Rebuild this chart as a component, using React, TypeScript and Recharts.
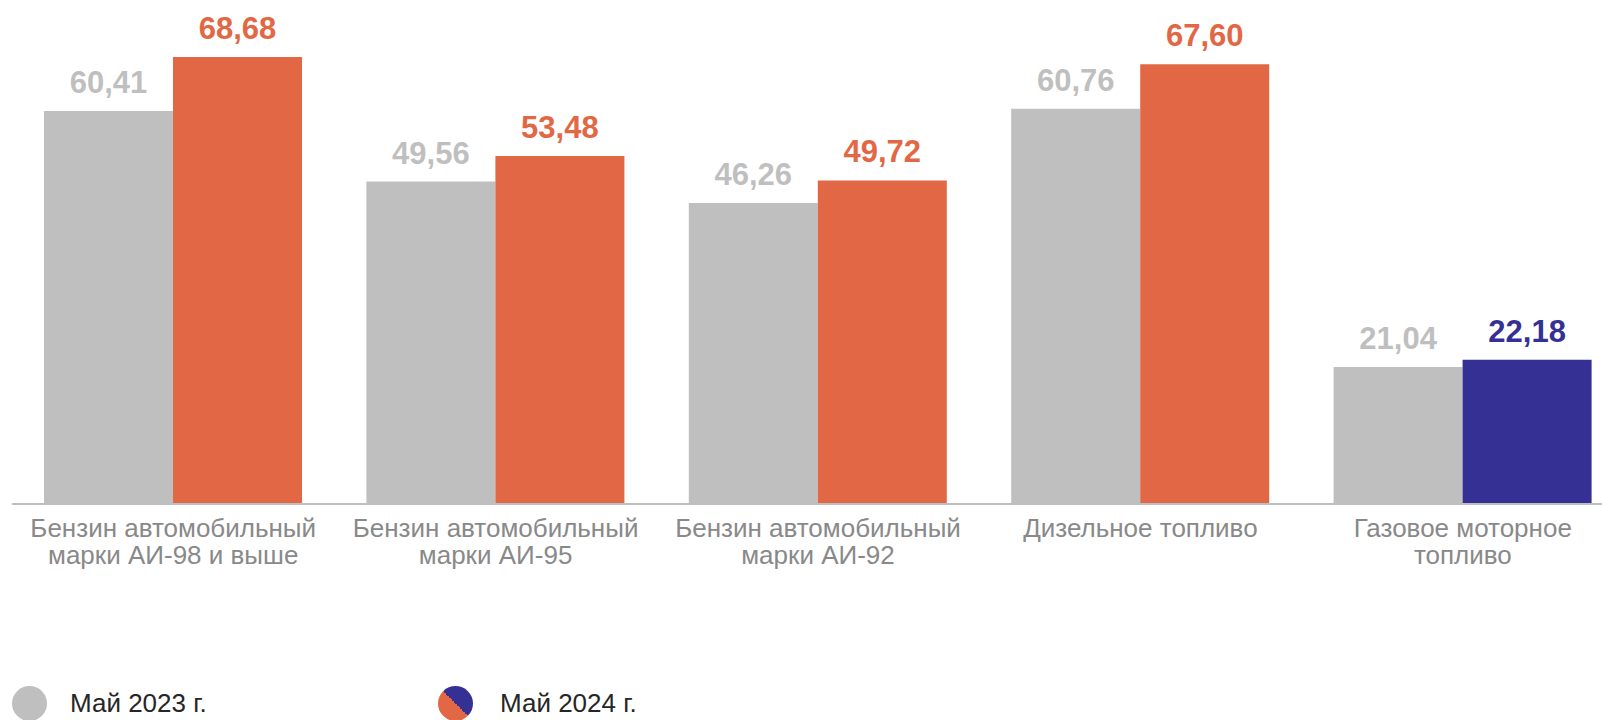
import React from "react";
import { BarChart, Bar, XAxis, YAxis, Cell, LabelList } from "recharts";

const categories = [
  "Бензин автомобильный\nмарки АИ-98 и выше",
  "Бензин автомобильный\nмарки АИ-95",
  "Бензин автомобильный\nмарки АИ-92",
  "Дизельное топливо",
  "Газовое моторное\nтопливо",
];
const may2023 = [60.41, 49.56, 46.26, 60.76, 21.04];
const may2024 = [68.68, 53.48, 49.72, 67.6, 22.18];
const colors2024 = ["#E26845", "#E26845", "#E26845", "#E26845", "#353194"];

const GRAY = "#BFBFBF";
const FONT = "'Liberation Sans', Arial, sans-serif";

const data = categories.map((name, i) => ({ name, a: may2023[i], b: may2024[i] }));

const fmt = (v: number) => v.toFixed(2).replace(".", ",");

const CategoryTick = ({ x, y, payload }: any) => {
  const lines = String(payload.value).split("\n");
  return (
    <text x={x} y={y} textAnchor="middle" fill="#898989" fontSize={26} fontFamily={FONT}>
      {lines.map((l, i) => (
        <tspan key={i} x={x} dy={i === 0 ? 33 : 27}>
          {l}
        </tspan>
      ))}
    </text>
  );
};

const makeLabel = (colorFor: (i: number) => string) => (props: any) => {
  const { x, y, width, value, index } = props;
  return (
    <text
      x={x + width / 2}
      y={y - 18}
      textAnchor="middle"
      fill={colorFor(index)}
      fontSize={31}
      fontWeight="bold"
      fontFamily={FONT}
    >
      {fmt(value)}
    </text>
  );
};

export default function App() {
  return (
    <div style={{ position: "absolute", left: 0, top: 0, width: 1602, height: 720, background: "#fff", overflow: "hidden" }}>
      <BarChart
        width={1602}
        height={720}
        data={data}
        barGap={0}
        barCategoryGap={32}
        margin={{ top: 16, right: -22, left: 12, bottom: 136 }}
      >
        <XAxis
          dataKey="name"
          tick={<CategoryTick />}
          tickLine={false}
          tickSize={0}
          tickMargin={0}
          axisLine={{ stroke: GRAY, strokeWidth: 2 }}
          interval={0}
          height={80}
        />
        <YAxis hide domain={[0, 75]} />
        <Bar dataKey="a" fill={GRAY} isAnimationActive={false}>
          <LabelList dataKey="a" content={makeLabel(() => GRAY)} />
        </Bar>
        <Bar dataKey="b" isAnimationActive={false}>
          {data.map((_, i) => (
            <Cell key={i} fill={colors2024[i]} />
          ))}
          <LabelList dataKey="b" content={makeLabel((i) => colors2024[i])} />
        </Bar>
      </BarChart>
      <div
        style={{
          position: "absolute",
          left: 12,
          top: 686,
          height: 35,
          display: "flex",
          alignItems: "center",
          fontFamily: FONT,
          fontSize: 26,
          color: "#262626",
        }}
      >
        <span style={{ width: 35, height: 35, borderRadius: "50%", background: GRAY, display: "inline-block" }} />
        <span style={{ marginLeft: 23, width: 368 }}>Май 2023 г.</span>
        <span
          style={{
            width: 35,
            height: 35,
            borderRadius: "50%",
            display: "inline-block",
            background: "linear-gradient(to top right, #E26845 50%, #353194 50%)",
          }}
        />
        <span style={{ marginLeft: 27 }}>Май 2024 г.</span>
      </div>
    </div>
  );
}
